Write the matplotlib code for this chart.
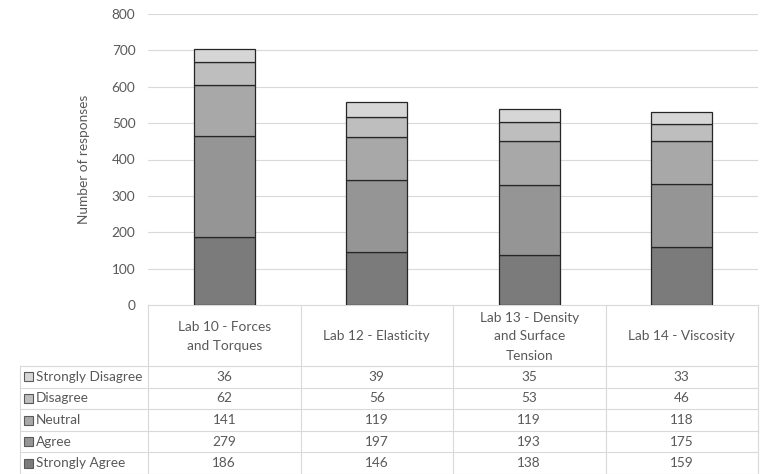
import matplotlib
matplotlib.use("Agg")
import matplotlib.pyplot as plt
from matplotlib.transforms import blended_transform_factory
from matplotlib.patches import Rectangle
from matplotlib.lines import Line2D

categories = ["Lab 10 - Forces\nand Torques", "Lab 12 - Elasticity",
              "Lab 13 - Density\nand Surface\nTension", "Lab 14 - Viscosity"]
series_names = ["Strongly Agree", "Agree", "Neutral", "Disagree", "Strongly Disagree"]
strongly_agree = [186, 146, 138, 159]
agree = [279, 197, 193, 175]
neutral = [141, 119, 119, 118]
disagree = [62, 56, 53, 46]
strongly_disagree = [36, 39, 35, 33]
series_values = [strongly_agree, agree, neutral, disagree, strongly_disagree]
colors = ["#7b7b7b", "#959595", "#a8a8a8", "#bebebe", "#d6d6d6"]
yticks = [0, 100, 200, 300, 400, 500, 600, 700, 800]

plt.rcParams['font.family'] = ['Lato', 'DejaVu Sans']
txt = "#595959"
fs = 9.8

W, H = 760, 474
fig = plt.figure(figsize=(W / 100, H / 100), dpi=100)
ax = fig.add_axes([148 / W, 1 - 305 / H, 610 / W, (305 - 14) / H])
ov = fig.add_axes([0, 0, 1, 1], zorder=-1)
ov.set_xlim(0, W)
ov.set_ylim(H, 0)
ov.axis("off")

n = len(categories)
x = list(range(n))
bottom = [0] * n
for vals, c in zip(series_values, colors):
    ax.bar(x, vals, width=0.4, bottom=bottom, color=c, edgecolor="#262626",
           linewidth=0.9, zorder=3)
    bottom = [b + v for b, v in zip(bottom, vals)]

ax.set_xlim(-0.5, n - 0.5)
ax.set_ylim(0, 800)
ax.set_yticks(yticks)
ax.set_yticklabels([str(t) for t in yticks], color=txt, fontsize=fs)
ax.tick_params(axis="y", length=0, pad=9)
ax.tick_params(axis="x", bottom=False, labelbottom=False)
ax.grid(axis="y", color="#d9d9d9", linewidth=0.8, zorder=0)
for s in ax.spines.values():
    s.set_visible(False)
ax.set_ylabel("Number of responses", color=txt, fontsize=fs, labelpad=16)

# table
tr = blended_transform_factory(ax.transData, ov.transData)
grid_c = "#d9d9d9"
header_top, header_bot = 305, 366
row_h = 21.6
left = 20
right = 758
ov.add_line(Line2D([148, right], [header_top, header_top], color=grid_c, lw=0.8))
for i in range(len(series_names) + 1):
    y = header_bot + i * row_h
    ov.add_line(Line2D([left, right], [y, y], color=grid_c, lw=0.8))
for b in range(n + 1):
    xb = b - 0.5
    ax.add_line(Line2D([xb, xb], [header_top, H], color=grid_c, lw=0.8,
                       transform=tr, clip_on=False))
ov.add_line(Line2D([left, left], [header_bot, H], color=grid_c, lw=0.8))

for i, cat in enumerate(categories):
    ax.text(i, (header_top + header_bot) / 2 + 1, cat, transform=tr, ha="center",
            va="center", fontsize=fs, color=txt, linespacing=1.7, clip_on=False)

rows = list(reversed(list(zip(series_names, series_values, colors))))
for r, (name, vals, c) in enumerate(rows):
    yc = header_bot + (r + 0.5) * row_h
    ov.add_patch(Rectangle((24, yc - 4.5), 9, 9, facecolor=c, edgecolor="#595959",
                           lw=0.8))
    ov.text(36, yc, name, ha="left", va="center", fontsize=fs, color=txt)
    for i, v in enumerate(vals):
        ax.text(i, yc, str(v), transform=tr, ha="center", va="center",
                fontsize=fs, color=txt, clip_on=False)

fig.savefig("out.png", dpi=100)
